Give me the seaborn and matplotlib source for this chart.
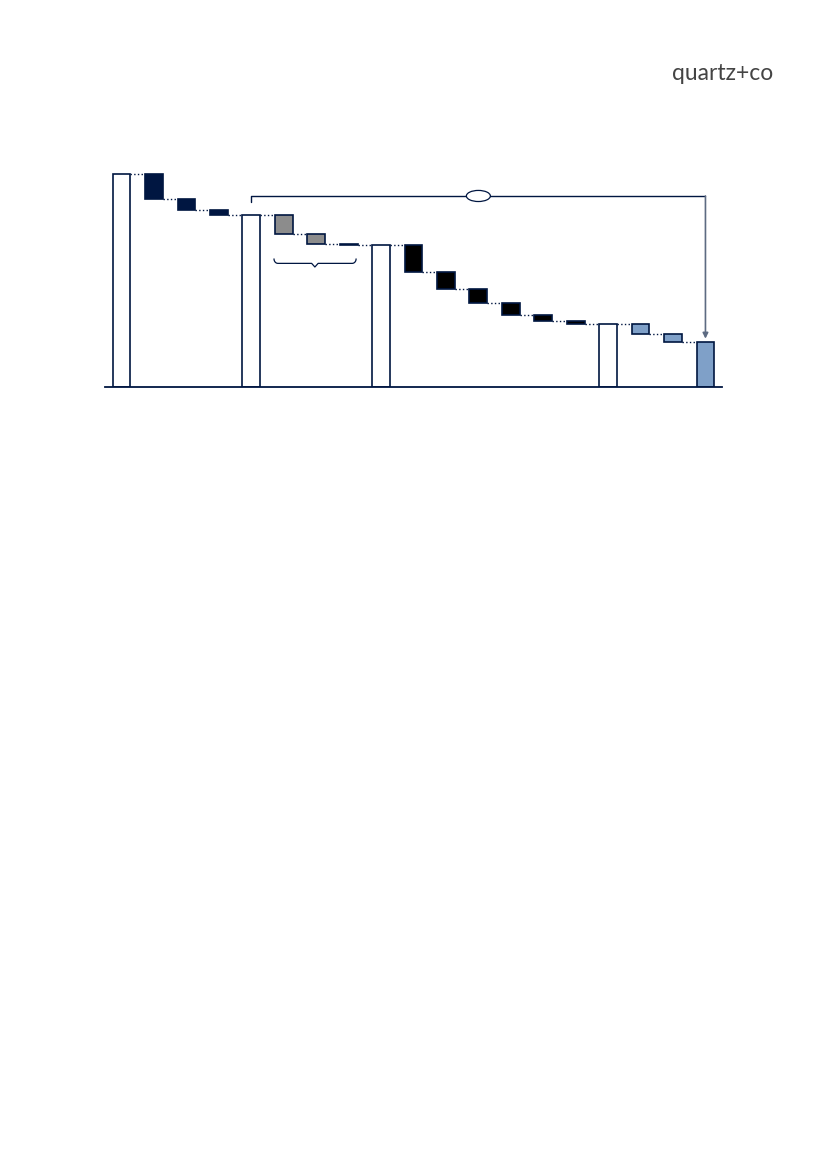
import numpy as np
import pandas as pd
import seaborn as sns
import matplotlib.pyplot as plt
from matplotlib.patches import Ellipse

# waterfall steps (first bar = 100)
labels = [f"s{i}" for i in range(1, 20)]
kinds = ["total", "drop", "drop", "drop",
         "total", "drop", "drop", "drop",
         "total", "drop", "drop", "drop", "drop", "drop", "drop",
         "total", "drop", "drop", "final"]
values = [100, 11.9, 4.9, 2.6,
          80.6, 8.9, 4.7, 0.5,
          66.5, 12.3, 8.0, 6.6, 5.6, 3.0, 1.5,
          29.5, 4.5, 3.9, 21.1]
colors = ["white", "#001641", "#001641", "#001641",
          "white", "#8c8c8c", "#8c8c8c", "#001641",
          "white", "#000000", "#000000", "#000000", "#000000", "#000000", "#000000",
          "white", "#7fa0c8", "#7fa0c8", "#7fa0c8"]

NAVY = "#001641"
BAR_W = 0.55

# work out floating bottoms
bottoms, heights, levels = [], [], []
level = 0
for k, v in zip(kinds, values):
    if k in ("total", "final"):
        bottoms.append(0)
        heights.append(v)
        level = v
    else:
        level = level - v
        bottoms.append(level)
        heights.append(v)
    levels.append(level)

df = pd.DataFrame({"step": labels, "height": heights})

sns.set_style("white")
fig = plt.figure(figsize=(8.27, 11.69), dpi=100)
ax = fig.add_axes([105 / 827, 1 - 387.3 / 1169, 617 / 827, 110 * 2.133 / 1169])

sns.barplot(data=df, x="step", y="height", hue="step", palette=dict(zip(labels, colors)),
            legend=False, width=BAR_W, edgecolor=NAVY, linewidth=1.2, saturation=1, ax=ax)

# move the drop bars up to float
for patch, b in zip(ax.patches, bottoms):
    patch.set_y(b)

# dotted connectors
for i in range(len(labels) - 1):
    ax.plot([i + BAR_W / 2, i + 1 - BAR_W / 2], [levels[i], levels[i]],
            ls=":", color=NAVY, lw=1.0, zorder=1)

# bracket with arrow from total 2 to final
ax.plot([4, 4, 18], [87.0, 89.7, 89.7], color=NAVY, lw=1.0)
ax.annotate("", xy=(18, 22.8), xytext=(18, 89.7),
            arrowprops=dict(arrowstyle="-|>", color="#5d6b82", lw=1.2,
                            mutation_scale=8, shrinkA=0, shrinkB=0))
ax.add_patch(Ellipse((11, 89.7), 0.74, 5.2, facecolor="white", edgecolor=NAVY,
                     lw=0.9, zorder=5))

# curly brace under grey bars
bx0, bx1, bxm = 4.70, 7.23, 5.96
by, btop, bpt = 58.1, 60.2, 56.4
t = np.linspace(0, np.pi / 2, 10)
r = 0.12
left_x = np.concatenate([bx0 + r - r * np.cos(t), [bxm - 0.1]])
left_y = np.concatenate([by + (btop - by) * (1 - np.sin(t)), [by]])
right_x = np.concatenate([[bxm + 0.1], bx1 - r + r * np.cos(t[::-1])])
right_y = np.concatenate([[by], by + (btop - by) * (1 - np.sin(t[::-1]))])
brace_x = np.concatenate([left_x, [bxm], right_x])
brace_y = np.concatenate([left_y, [bpt], right_y])
ax.plot(brace_x, brace_y, color=NAVY, lw=0.9)

ax.set_xlim(-0.51, 18.51)
ax.set_ylim(0, 110)
ax.set_xticks([])
ax.set_yticks([])
ax.set_xlabel("")
ax.set_ylabel("")
sns.despine(ax=ax, left=True)
ax.spines["bottom"].set_color(NAVY)
ax.spines["bottom"].set_linewidth(1.3)
ax.patch.set_alpha(0)

fig.text(773 / 827, 1 - 73 / 1169, "quartz+co", ha="right", va="center",
         fontsize=16.5, color="#444444", family="Lato")

fig.savefig("out.png", dpi=100)
